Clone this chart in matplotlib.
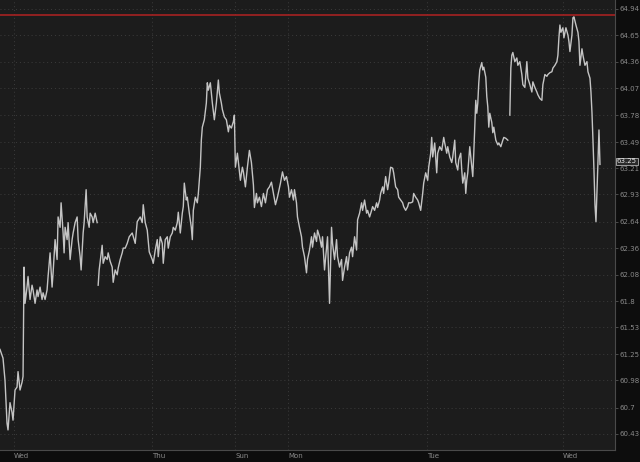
import numpy as np
import matplotlib.pyplot as plt
from matplotlib.ticker import FixedLocator, FixedFormatter, NullLocator

# bar number / close price, three blocks separated by data gaps
seg1_bar = [0, 3, 5, 7, 8, 10, 12, 13, 15, 17,
            18, 20, 22, 23, 24, 25, 27, 28, 30, 32,
            33, 35, 37, 38, 40, 42, 43, 45, 47, 48,
            50, 52, 53, 55, 57, 58, 60, 61, 63, 64,
            65, 67, 68, 70, 72, 73, 75, 77, 78, 80,
            81, 83, 84, 86, 87, 89, 90, 92, 93, 95,
            97]
seg1_px = [61.30, 61.21, 60.98, 60.54, 60.47, 60.75, 60.65, 60.57, 60.88, 60.91,
           61.07, 60.88, 60.96, 61.02, 62.16, 61.78, 61.95, 62.06, 61.82, 61.97,
           61.92, 61.78, 61.92, 61.85, 61.95, 61.82, 61.89, 61.82, 61.92, 62.06,
           62.31, 61.95, 62.10, 62.45, 62.24, 62.69, 62.58, 62.84, 62.52, 62.31,
           62.58, 62.45, 62.63, 62.24, 62.45, 62.52, 62.63, 62.69, 62.45, 62.27,
           62.13, 62.52, 62.63, 62.98, 62.69, 62.58, 62.73, 62.69, 62.63, 62.73,
           62.63]

seg2_bar = [98, 99, 102, 103, 105, 107, 108, 110, 112, 113,
            115, 117, 118, 120, 122, 123, 125, 127, 129, 132,
            135, 137, 140, 142, 143, 145, 147, 149, 152, 153,
            155, 157, 158, 160, 162, 163, 165, 167, 168, 170,
            172, 173, 175, 177, 178, 180, 182, 183, 184, 186,
            187, 189, 191, 192, 193, 195, 197, 198, 200, 201,
            202, 204, 206, 207, 208, 210, 212, 214, 216, 218,
            219, 221, 222, 224, 226, 228, 229, 231, 233, 234,
            235, 237, 238, 240, 242, 243, 245, 247, 249, 251,
            253, 254, 256, 257, 259, 261, 263, 265, 267, 269,
            271, 273, 275, 277, 280, 282, 284, 286, 288, 289,
            291, 293, 294, 296, 297, 299, 301, 302, 304, 306,
            307, 309, 311, 312, 314, 316, 317, 319, 321, 322,
            324, 326, 327, 329, 331, 332, 334, 336, 337, 339,
            341, 342, 344, 346, 347, 349, 351, 352, 354, 356,
            357, 359, 361, 362, 364, 366, 367, 369, 371, 372,
            374, 376, 377, 379, 380, 382, 383, 385, 387, 388,
            390, 392, 393, 395, 397, 398, 400, 402, 403, 405,
            407, 408, 410, 412, 413, 415, 417, 418, 420, 422,
            423, 425, 427, 428, 430, 431, 432, 434, 436, 437,
            439, 441, 443, 444, 446, 447, 449, 451, 452, 454,
            455, 457, 458, 460, 461, 462, 464, 465, 466, 467,
            468, 469, 471, 472, 473, 474, 475, 476, 477, 478,
            479, 481, 482, 483, 485, 486, 487, 488, 489, 491,
            492, 493, 495, 497, 498, 500, 502, 503, 505, 507]
seg2_px = [61.97, 62.13, 62.39, 62.20, 62.27, 62.24, 62.31, 62.22, 62.16, 62.00,
           62.13, 62.08, 62.15, 62.24, 62.31, 62.36, 62.36, 62.41, 62.48, 62.52,
           62.41, 62.64, 62.69, 62.63, 62.82, 62.63, 62.55, 62.32, 62.24, 62.20,
           62.34, 62.45, 62.27, 62.48, 62.41, 62.20, 62.45, 62.48, 62.36, 62.48,
           62.52, 62.58, 62.55, 62.63, 62.74, 62.52, 62.73, 62.80, 63.05, 62.87,
           62.90, 62.73, 62.58, 62.45, 62.76, 62.90, 62.84, 62.94, 63.22, 63.51,
           63.65, 63.73, 63.91, 64.13, 64.05, 64.13, 63.91, 63.73, 63.91, 64.16,
           64.02, 63.91, 63.84, 63.76, 63.73, 63.60, 63.67, 63.64, 63.71, 63.78,
           63.22, 63.37, 63.27, 63.08, 63.22, 63.17, 63.01, 63.22, 63.40, 63.27,
           63.03, 62.79, 62.94, 62.84, 62.90, 62.80, 62.94, 62.84, 62.98, 63.01,
           63.06, 62.94, 62.82, 62.90, 63.05, 63.17, 63.08, 63.12, 63.01, 62.90,
           62.98, 62.87, 62.98, 62.84, 62.69, 62.58, 62.48, 62.37, 62.27, 62.10,
           62.24, 62.34, 62.48, 62.37, 62.52, 62.43, 62.55, 62.48, 62.37, 62.48,
           62.13, 62.37, 62.48, 61.78, 62.58, 62.41, 62.24, 62.45, 62.27, 62.16,
           62.24, 62.02, 62.16, 62.27, 62.13, 62.31, 62.37, 62.27, 62.48, 62.34,
           62.66, 62.73, 62.84, 62.76, 62.87, 62.73, 62.76, 62.69, 62.76, 62.80,
           62.76, 62.84, 62.79, 62.87, 62.94, 63.01, 62.94, 63.12, 62.98, 63.05,
           63.22, 63.21, 63.16, 63.01, 62.98, 62.90, 62.87, 62.84, 62.80, 62.76,
           62.80, 62.84, 62.84, 62.85, 62.94, 62.90, 62.87, 62.84, 62.76, 62.94,
           63.05, 63.16, 63.08, 63.22, 63.37, 63.54, 63.33, 63.48, 63.16, 63.37,
           63.44, 63.40, 63.54, 63.48, 63.37, 63.44, 63.33, 63.27, 63.33, 63.51,
           63.27, 63.19, 63.30, 63.37, 63.19, 63.05, 63.16, 62.94, 63.08, 63.16,
           63.30, 63.44, 63.22, 63.12, 63.37, 63.65, 63.94, 63.80, 63.91, 64.13,
           64.27, 64.35, 64.27, 64.30, 64.19, 63.98, 63.87, 63.65, 63.80, 63.70,
           63.59, 63.65, 63.51, 63.46, 63.48, 63.44, 63.51, 63.54, 63.53, 63.51]

seg3_bar = [509, 510, 511, 512, 514, 516, 517, 519, 521, 522,
            524, 526, 527, 529, 531, 532, 534, 536, 537, 539,
            541, 542, 544, 546, 547, 549, 551, 552, 554, 556,
            557, 558, 559, 560, 562, 563, 565, 567, 568, 569,
            571, 572, 573, 575, 577, 578, 579, 581, 582, 584,
            586, 587, 589, 590, 591, 592, 593, 594, 595, 596,
            597, 598, 599]
seg3_px = [63.78, 64.29, 64.43, 64.46, 64.36, 64.40, 64.32, 64.36, 64.22, 64.11,
           64.08, 64.36, 64.18, 64.11, 64.03, 64.14, 64.08, 64.03, 64.00, 63.96,
           63.94, 64.11, 64.22, 64.20, 64.22, 64.24, 64.25, 64.29, 64.32, 64.36,
           64.43, 64.62, 64.76, 64.68, 64.73, 64.62, 64.73, 64.65, 64.58, 64.47,
           64.65, 64.84, 64.85, 64.76, 64.68, 64.58, 64.32, 64.50, 64.43, 64.32,
           64.36, 64.25, 64.18, 64.03, 63.81, 63.51, 63.19, 62.82, 62.64, 62.96,
           63.28, 63.62, 63.25]

day_bars = [14, 152, 235, 288, 426, 562]
day_labels = ['Wed', 'Thu', 'Sun', 'Mon', 'Tue', 'Wed']
price_ticks = [60.43, 60.7, 60.98, 61.25, 61.53, 61.8, 62.08, 62.36, 62.64,
               62.93, 63.21, 63.49, 63.78, 64.07, 64.36, 64.65, 64.94]
high_line = 64.87
last_price = 63.25

fig = plt.figure(figsize=(6.4, 4.62), dpi=100, facecolor='#0d0d0d')
ax = fig.add_axes([0, 12 / 462, 615 / 640, 450 / 462], facecolor='#1c1c1c')

for b, p in [(seg1_bar, seg1_px), (seg2_bar, seg2_px), (seg3_bar, seg3_px)]:
    ax.plot(b, p, color='#c4c4c4', lw=1.0, zorder=3)
ax.axhline(high_line, color='#a52222', lw=1.2, zorder=4)

ax.set_yscale('log')
ax.set_ylim(60.265, 65.035)
ax.set_xlim(0, 614)
ax.yaxis.set_major_locator(FixedLocator(price_ticks))
ax.yaxis.set_major_formatter(FixedFormatter([f'{t:g}' for t in price_ticks]))
ax.yaxis.set_minor_locator(NullLocator())
ax.yaxis.set_minor_formatter(FixedFormatter([]))
ax.yaxis.tick_right()
ax.set_xticks(day_bars, day_labels)
for lab in ax.get_xticklabels():
    lab.set_horizontalalignment('left')

ax.tick_params(axis='y', colors='#555555', labelcolor='#8a8a8a', labelsize=5,
               length=2, width=0.6, pad=1)
ax.tick_params(axis='x', length=0, labelcolor='#8a8a8a', labelsize=5, pad=2)
ax.grid(True, color='#3c3c3c', linestyle=(0, (1, 3)), lw=0.7, zorder=1)

for s in ['left', 'top']:
    ax.spines[s].set_visible(False)
for s in ['right', 'bottom']:
    ax.spines[s].set_color('#4a4a4a')
    ax.spines[s].set_linewidth(0.8)

# last price tag sits just above the 63.21 label, as in the source
ax.text(1.003, last_price, f'{last_price:.2f}', transform=ax.get_yaxis_transform(),
        fontsize=5, color='#e6e6e6', va='bottom', ha='left', clip_on=False, zorder=5,
        bbox=dict(boxstyle='square,pad=0.1', fc='#2b2b2b', ec='#cfcfcf', lw=0.5))

fig.savefig('out.png', dpi=100, facecolor=fig.get_facecolor())
